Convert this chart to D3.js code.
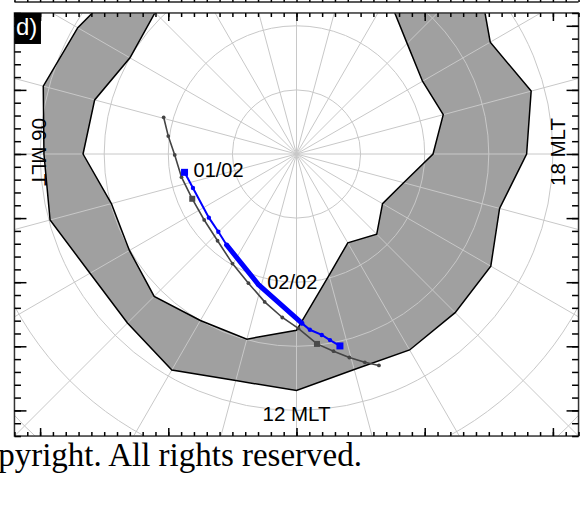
<!DOCTYPE html>
<html><head><meta charset="utf-8">
<script src="https://cdn.jsdelivr.net/npm/d3@7"></script>
<style>body{margin:0;background:#fff}svg{display:block}</style>
</head><body><svg id="c" width="580" height="512"></svg>
<script>
// ---------- data ----------
// auroral oval band: MLT (hours) with equatorward (outer) and poleward (inner) colatitude (deg)
const bandMLT        = [2, 3, 4, 5, 6, 7, 8, 9, 10, 11, 12, 13, 14, 15, 16, 17, 18, 19, 20, 21, 22];
const bandOuterColat = [37.5, 38.1, 39.4, 40.9, 39.4, 39.8, 37.2, 37.3, 38.9, 36.6, 36.9, 34.8, 35.3, 35.0, 35.0, 32.8, 35.9, 37.9, 34.9, 40.0, 40.0];
const bandInnerColat = [31.0, 31.2, 30.0, 32.6, 33.3, 29.9, 30.1, 31.4, 30.0, 29.9, 27.5, 19.6, 16.0, 17.7, 15.5, 17.3, 21.3, 23.7, 22.7, 24.4, 28.5];

// footprint track (grey)
const grayMLT   = [4.97, 5.47, 6.03, 6.76, 7.55, 8.37, 9.18, 9.98, 10.64, 11.19, 11.67, 12.04, 12.41, 12.71, 12.97, 13.21, 13.42];
const grayColat = [21.5, 20.2, 19.0, 18.3, 17.7, 17.7, 18.3, 19.8, 21.5, 23.6, 25.6, 27.2, 29.8, 31.3, 32.8, 34.2, 35.4];
const grayMarkIdx = [4, 12];

// blue track
const blueMLT   = [6.62, 7.21, 8.40, 8.99, 9.50, 10.91, 12.12, 12.29, 12.53, 12.68, 12.85];
const blueColat = [17.7, 17.0, 16.9, 17.2, 17.9, 21.2, 26.4, 27.5, 28.5, 29.5, 30.7];
const blueThick = [4, 6];           // index range drawn thick
const blueMarkIdx = [0, 10];
const blueLabels = [{i: 0, text: "01/02"}, {i: 5, text: "02/02"}];

// grid / axes
const gridColat = [10, 20, 30, 40, 50, 60];
const gridMLT = d3.range(0, 24, 1);
const mltLabels = ["06 MLT", "12 MLT", "18 MLT"];
const xMajor = [-40, -20, 0, 20, 40];
const xMinor = d3.range(-44, 45, 2);
const yMajor = [-40, -30, -20, -10, 0, 10, 20];
const yMinor = d3.range(-44, 23, 2);
const panelLabel = "d)";
const footer = "Copyright. All rights reserved.";

// ---------- layout ----------
const svg = d3.select("#c");
const k = 6.41, cx = 296.5, cy = 154;
const x = d3.scaleLinear().domain([-44, 44]).range([cx - 44 * k, cx + 44 * k]);
const y = d3.scaleLinear().domain([-44, 22]).range([cy + 44 * k, cy - 22 * k]);
const rS = d3.scaleLinear().domain([0, 60]).range([0, 60 * k]);
const aS = d3.scaleLinear().domain([0, 24]).range([0, -2 * Math.PI]);
const L = x(-44), R = x(44), T = y(22), B = y(-44);

svg.append("rect").attr("width", 580).attr("height", 512).attr("fill", "#fff");

svg.append("defs").append("clipPath").attr("id", "clip")
  .append("rect").attr("x", L).attr("y", T).attr("width", R - L).attr("height", B - T);

const plot = svg.append("g").attr("clip-path", "url(#clip)");
const g = plot.append("g").attr("transform", `translate(${cx},${cy})`);

function pt(mlt, colat) {
  const a = aS(mlt), r = rS(colat);
  return [r * Math.sin(a), -r * Math.cos(a)];
}

// band polygon
const bandPts = bandMLT.map((m, i) => [m, bandOuterColat[i]])
  .concat(bandMLT.map((m, i) => [m, bandInnerColat[i]]).reverse());
const radial = d3.lineRadial().angle(d => aS(d[0])).radius(d => rS(d[1])).curve(d3.curveLinearClosed);
g.append("path").attr("d", radial(bandPts)).attr("fill", "#a0a0a0").attr("stroke", "none");

// grid
g.selectAll("circle.grid").data(gridColat).join("circle")
  .attr("r", d => rS(d)).attr("fill", "none").attr("stroke", "#c8c8c8").attr("stroke-width", 1);
g.selectAll("line.grid").data(gridMLT).join("line")
  .attr("x1", 0).attr("y1", 0)
  .attr("x2", d => pt(d, 70)[0]).attr("y2", d => pt(d, 70)[1])
  .attr("stroke", "#c8c8c8").attr("stroke-width", 1);

// band outline
g.append("path").attr("d", radial(bandPts)).attr("fill", "none")
  .attr("stroke", "#000").attr("stroke-width", 1.5).attr("stroke-linejoin", "miter");

// grey track
const grayPts = grayMLT.map((m, i) => pt(m, grayColat[i]));
const line = d3.line();
g.append("path").attr("d", line(grayPts)).attr("fill", "none")
  .attr("stroke", "#444").attr("stroke-width", 1.6);
g.selectAll("circle.gdot").data(grayPts.filter((p, i) => !grayMarkIdx.includes(i))).join("circle")
  .attr("cx", d => d[0]).attr("cy", d => d[1]).attr("r", 1.9).attr("fill", "#444");
g.selectAll("rect.gsq").data(grayMarkIdx.map(i => grayPts[i])).join("rect")
  .attr("x", d => d[0] - 3).attr("y", d => d[1] - 3).attr("width", 6).attr("height", 6).attr("fill", "#4a4a4a");

// blue track
const bluePts = blueMLT.map((m, i) => pt(m, blueColat[i]));
g.append("path").attr("d", line(bluePts)).attr("fill", "none")
  .attr("stroke", "#0000ff").attr("stroke-width", 2);
g.append("path").attr("d", line(bluePts.slice(blueThick[0], blueThick[1] + 1))).attr("fill", "none")
  .attr("stroke", "#0000ff").attr("stroke-width", 5).attr("stroke-linecap", "round");
g.selectAll("circle.bdot").data(bluePts.filter((p, i) => !blueMarkIdx.includes(i))).join("circle")
  .attr("cx", d => d[0]).attr("cy", d => d[1]).attr("r", 2.2).attr("fill", "#0000ff");
g.selectAll("rect.bsq").data(blueMarkIdx.map(i => bluePts[i])).join("rect")
  .attr("x", d => d[0] - 3.5).attr("y", d => d[1] - 3.5).attr("width", 7).attr("height", 7).attr("fill", "#0000ff");
g.selectAll("text.blab").data(blueLabels).join("text")
  .attr("x", d => bluePts[d.i][0] + 9).attr("y", d => bluePts[d.i][1] + 4.5)
  .attr("font-family", "Liberation Sans, Arial, sans-serif").attr("font-size", 20)
  .attr("fill", "#000").text(d => d.text);

// MLT labels
const lf = "Liberation Sans, Arial, sans-serif";
svg.append("text").attr("transform", `translate(32,152) rotate(90)`).attr("text-anchor", "middle")
  .attr("font-family", lf).attr("font-size", 20.5).text(mltLabels[0]);
svg.append("text").attr("x", cx).attr("y", 421).attr("text-anchor", "middle")
  .attr("font-family", lf).attr("font-size", 20.5).text(mltLabels[1]);
svg.append("text").attr("transform", `translate(565,152) rotate(-90)`).attr("text-anchor", "middle")
  .attr("font-family", lf).attr("font-size", 20.5).text(mltLabels[2]);

// frame
svg.append("rect").attr("x", L).attr("y", T).attr("width", R - L).attr("height", B - T)
  .attr("fill", "none").attr("stroke", "#333").attr("stroke-width", 1.5);

function addAxis(axisFn, scale, vals, size, transform) {
  const ax = svg.append("g").attr("transform", transform)
    .call(axisFn(scale).tickValues(vals).tickSize(size).tickFormat(""));
  ax.select(".domain").remove();
  ax.selectAll("line").attr("stroke", "#000").attr("stroke-width", 1.5);
}
addAxis(d3.axisBottom, x, xMinor, -4, `translate(0,${B})`);
addAxis(d3.axisBottom, x, xMajor, -8, `translate(0,${B})`);
addAxis(d3.axisTop, x, xMinor, -4, `translate(0,${T})`);
addAxis(d3.axisTop, x, xMajor, -8, `translate(0,${T})`);
addAxis(d3.axisLeft, y, yMinor, -6.5, `translate(${L},0)`);
addAxis(d3.axisLeft, y, yMajor, -12, `translate(${L},0)`);
addAxis(d3.axisRight, y, yMinor, -6.5, `translate(${R},0)`);
addAxis(d3.axisRight, y, yMajor, -12, `translate(${R},0)`);

// remnant of panel above
svg.append("line").attr("x1", L).attr("x2", R).attr("y1", 2).attr("y2", 2)
  .attr("stroke", "#222").attr("stroke-width", 1.5);
addAxis(d3.axisTop, x, xMinor, 4, `translate(0,2)`);

// panel label
svg.append("rect").attr("x", L).attr("y", T).attr("width", 26.5).attr("height", 31).attr("fill", "#000");
svg.append("text").attr("x", L + 1.5).attr("y", 35).attr("font-family", lf).attr("font-size", 24)
  .attr("fill", "#fff").text(panelLabel);

// footer
svg.append("text").attr("x", 362).attr("y", 466).attr("text-anchor", "end")
  .attr("font-family", "Liberation Serif, Times New Roman, serif").attr("font-size", 33)
  .attr("fill", "#000").text(footer);
</script></body></html>
